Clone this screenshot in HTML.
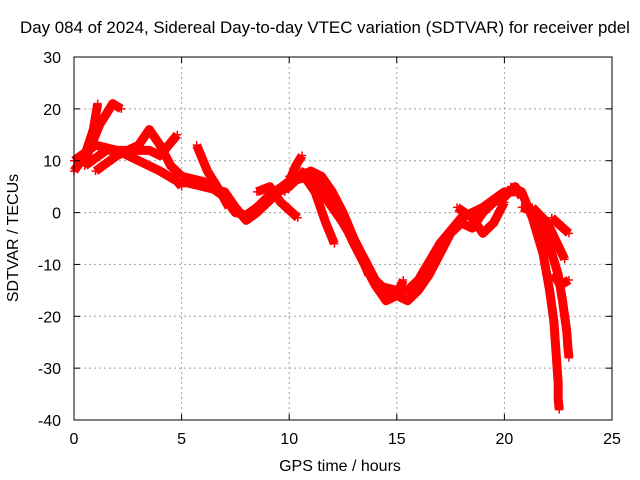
<!DOCTYPE html>
<html><head><meta charset="utf-8"><style>
body{margin:0;background:#fff}
svg{display:block;font-family:"Liberation Sans",sans-serif}
</style></head><body>
<svg id="chart" width="640" height="480">
<g id="grid"></g>
<g id="marks"></g>
<g id="axes"></g>
<text x="325" y="33" text-anchor="middle" font-size="16.9">Day 084 of 2024, Sidereal Day-to-day VTEC variation (SDTVAR) for receiver pdel</text>
<text x="340" y="471" text-anchor="middle" font-size="16">GPS time / hours</text>
<text transform="translate(18,238) rotate(-90)" text-anchor="middle" font-size="16">SDTVAR / TECUs</text>
</svg>
<script>
const xTicks=[0,5,10,15,20,25];
const yTicks=[30,20,10,0,-10,-20,-30,-40];
const arc1=[[0,8],[0.5,11],[0.9,16],[1.1,21]];
const arc2=[[0.5,10],[1.2,17],[1.8,21],[2.2,20]];
const arc3=[[0,10],[1,13],[2,12],[3,10],[4,8],[4.8,6],[5,5]];
const arc4=[[0.5,9],[1.5,12],[2.5,12],[3.5,12],[4,11],[4.8,15]];
const arc5=[[1,8],[2,11],[3,13],[3.5,16],[4,13],[4.5,9],[5,7]];
const arc6=[[5.7,13],[6.2,8],[6.8,4],[7.2,1]];
const arc7=[[5,6],[6,5],[7,4],[7.5,1],[8,-1.5],[8.5,0],[9,2],[9.5,4],[10,5],[10.5,7],[11,8],[11.5,7],[12,4],[12.5,0],[13,-5],[13.5,-9],[14,-13],[14.5,-15],[15,-16],[15.5,-17],[16,-15],[16.5,-12],[17,-8],[17.5,-4],[18,-2],[18.5,-3],[19,0],[19.5,2],[20,3],[20.5,5],[20.8,3]];
const arc7b=[[5,7],[6,6],[7,3],[7.5,0],[8,-0.5],[8.5,1],[9,3],[10,6],[11,7],[12,3],[13,-6],[14,-14],[15,-15],[15.5,-15],[16,-13],[17,-6],[18,-1],[19,1],[20,4],[20.5,4]];
const arc8=[[8.5,4],[9.1,5],[9.6,2],[10.4,-1]];
const arc9=[[9.8,4],[10.3,9],[10.6,11]];
const arc10=[[10,7],[10.7,7],[11.2,4],[11.7,-2],[12.1,-6]];
const arc11=[[10.5,8],[11.5,6],[12.5,0],[13,-5],[13.5,-10],[14,-14],[14.5,-17],[15,-16],[15.3,-13]];
const arc12=[[11.5,4],[12.5,-2],[13.2,-7],[13.7,-12]];
const arc13=[[17.8,1],[18.5,-1],[19,-4],[19.5,-2],[20,2]];
const arc14=[[20.3,5],[20.8,4],[21.3,-1],[21.8,-8],[22.1,-15],[22.2,-18],[22.3,-21],[22.35,-24],[22.4,-27],[22.45,-30],[22.5,-33],[22.5,-36],[22.55,-38]];
const arc15=[[20.8,1],[21.5,0],[22,-5],[22.5,-12],[22.7,-17],[22.8,-20],[22.9,-23],[22.95,-26],[23,-28]];
const arc16=[[21.3,1],[22,-2],[22.8,-9]];
const arc17=[[22.3,-12],[22.6,-14],[23,-13]];
const arc18=[[22.2,-1],[23,-4]];
const arcs=[arc1,arc2,arc3,arc4,arc5,arc6,arc7,arc7b,arc8,arc9,arc10,arc11,arc12,arc13,arc14,arc15,arc16,arc17,arc18];
const NS='http://www.w3.org/2000/svg';
const X0=74,X1=612,Y0=57,Y1=420;
const sx=h=>X0+(h-0)/25*(X1-X0);
const sy=v=>Y0+(30-v)/70*(Y1-Y0);
function mk(tag,attrs,parent){const e=document.createElementNS(NS,tag);for(const k in attrs)e.setAttribute(k,attrs[k]);parent.appendChild(e);return e;}
const grid=document.getElementById('grid'),axes=document.getElementById('axes'),marks=document.getElementById('marks');
xTicks.forEach(t=>{
 if(t>0&&t<25){const l=mk('line',{x1:sx(t),x2:sx(t),y1:Y0,y2:Y1,stroke:'#a0a0a0','stroke-dasharray':'2,3'},grid);
 
 }
 const tx=mk('text',{x:sx(t),y:Y1+24,'text-anchor':'middle','font-size':16},axes);tx.textContent=t;
 
 
 mk('line',{x1:sx(t),x2:sx(t),y1:Y1,y2:Y1-6,stroke:'#000'},axes);
 mk('line',{x1:sx(t),x2:sx(t),y1:Y0,y2:Y0+6,stroke:'#000'},axes);
});
yTicks.forEach(t=>{
 if(t<30&&t>-40){const l=mk('line',{x1:X0,x2:X1,y1:sy(t),y2:sy(t),stroke:'#a0a0a0','stroke-dasharray':'2,3'},grid);
 
 }
 const tx=mk('text',{x:X0-13,y:sy(t)+6,'text-anchor':'end','font-size':16},axes);tx.textContent=t;
 
 
 mk('line',{x1:X0,x2:X0+6,y1:sy(t),y2:sy(t),stroke:'#000'},axes);
 mk('line',{x1:X1,x2:X1-6,y1:sy(t),y2:sy(t),stroke:'#000'},axes);
});
const fr=mk('rect',{x:X0,y:Y0,width:X1-X0,height:Y1-Y0,fill:'none',stroke:'#000'},axes);


arcs.forEach(a=>{
 const p=mk('polyline',{points:a.map(d=>sx(d[0])+','+sy(d[1])).join(' '),fill:'none',stroke:'#ff0000','stroke-width':9,'stroke-linejoin':'round','stroke-linecap':'butt'},marks);
 
 
 a.forEach(d=>{
  const m=mk('path',{d:`M${sx(d[0])-4},${sy(d[1])}h8M${sx(d[0])},${sy(d[1])-4}v8`,stroke:'#ff0000','stroke-width':1.5},marks);
  
  
 });
});
</script>
</body></html>
